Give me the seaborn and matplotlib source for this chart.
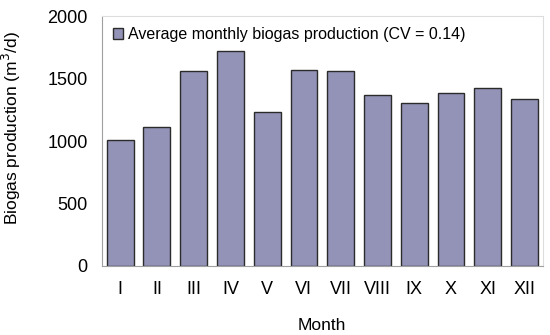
import matplotlib
matplotlib.use("Agg")
import matplotlib.pyplot as plt
import seaborn as sns
import numpy as np
import pandas as pd

months = ["I", "II", "III", "IV", "V", "VI", "VII", "VIII", "IX", "X", "XI", "XII"]
biogas = [1005, 1110, 1560, 1723, 1230, 1565, 1557, 1372, 1302, 1385, 1426, 1337]
legend_label = "Average monthly biogas production (CV = 0.14)"

df = pd.DataFrame({"Month": months, "Biogas": biogas})

sns.set_style("white")
plt.rcParams["font.family"] = ["Liberation Sans", "DejaVu Sans"]
plt.rcParams["text.color"] = "black"
plt.rcParams["axes.labelcolor"] = "black"
plt.rcParams["xtick.color"] = "black"
plt.rcParams["ytick.color"] = "black"

fig = plt.figure(figsize=(5.5, 3.35), dpi=100)
ax = fig.add_axes([0.185, 0.206, 0.802, 0.746])

sns.barplot(data=df, x="Month", y="Biogas", color="#9393b7", saturation=1,
            width=0.73, edgecolor="#2b2b2b", linewidth=1.0, ax=ax,
            label=legend_label)

ax.set_ylim(0, 2000)
ax.set_xlim(-0.5, len(months) - 0.5)
ax.set_yticks([0, 500, 1000, 1500, 2000])
ax.set_xticks(np.arange(-0.5, len(months)), minor=True)
ax.tick_params(axis="x", which="major", length=0, labelsize=13, pad=11)
ax.tick_params(axis="x", which="minor", length=5, color="#a0a0a0", width=1, direction="out")
ax.tick_params(axis="y", length=5, color="#a0a0a0", width=1, direction="out", labelsize=13, pad=5)

for side in ["left", "bottom"]:
    ax.spines[side].set_color("#a0a0a0")
for side in ["top", "right"]:
    ax.spines[side].set_color("#dddddd")

ax.set_xlabel("Month", fontsize=12.5, labelpad=14)
ax.set_ylabel("Biogas production (m$^3$/d)", fontsize=12.5)
ax.yaxis.set_label_coords(-0.178, 0.552)

ax.legend(loc="upper left", frameon=False, fontsize=11.5, handlelength=0.65,
          handleheight=0.65, handletextpad=0.3, borderaxespad=0.3,
          bbox_to_anchor=(0.0, 1.0))

fig.savefig("out.png", dpi=100)
